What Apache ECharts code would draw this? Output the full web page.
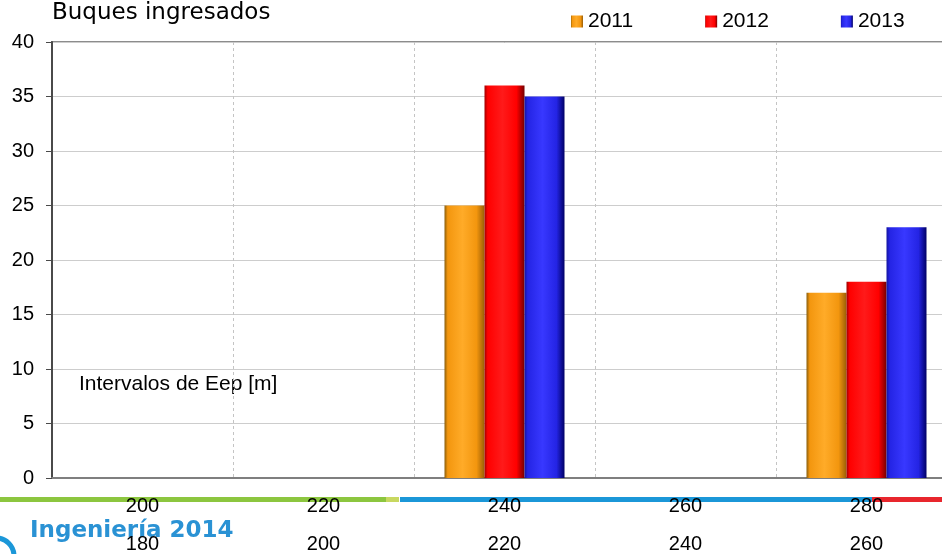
<!DOCTYPE html>
<html>
<head>
<meta charset="utf-8">
<script src="https://cdn.jsdelivr.net/npm/echarts@6/dist/echarts.min.js"></script>
<style>
html,body{margin:0;padding:0;background:#fff;overflow:hidden;width:942px;height:554px;}
#chart{width:962px;height:554px;}
</style>
</head>
<body>
<div id="chart"></div>
<script>
// ---- data ----
var categories = ['200', '220', '240', '260', '280'];
var categoriesLower = ['180', '200', '220', '240', '260'];
var seriesNames = ['2011', '2012', '2013'];
var values2011 = [0, 0, 25, 0, 17];
var values2012 = [0, 0, 36, 0, 18];
var values2013 = [0, 0, 35, 0, 23];
var yTicks = { min: 0, max: 40, interval: 5 };
var titleText = 'Buques ingresados';
var axisNote = 'Intervalos de Eep [m]';
var logoText = 'Ingeniería 2014';

function grad(edgeL, base, light, edgeR) {
  return new echarts.graphic.LinearGradient(0, 0, 1, 0, [
    { offset: 0, color: edgeL },
    { offset: 0.08, color: base },
    { offset: 0.45, color: light },
    { offset: 0.8, color: base },
    { offset: 1, color: edgeR }
  ]);
}
var colors = [
  grad('#8a5e0c', '#f3960e', '#ffab28', '#9a5e06'),
  grad('#a00000', '#ff0000', '#ff1a1a', '#760000'),
  grad('#1414a0', '#2424e4', '#3838ff', '#000066')
];
var seriesValues = [values2011, values2012, values2013];

var chart = echarts.init(document.getElementById('chart'));
var labelFont = { fontFamily: 'Liberation Sans, Arial', fontSize: 20, color: '#000' };

var option = {
  animation: false,
  backgroundColor: '#fff',
  title: {
    text: titleText, left: 52, top: 2, padding: 0,
    textStyle: { fontFamily: 'DejaVu Sans', fontSize: 23, fontWeight: 'normal', color: '#000' }
  },
  legend: {
    data: seriesNames, left: 571, top: 11, padding: 0,
    itemWidth: 12, itemHeight: 12, itemGap: 72, icon: 'rect',
    textStyle: { fontFamily: 'Liberation Sans, Arial', fontSize: 21, color: '#000' }
  },
  grid: {
    left: 52, top: 42, bottom: 75, right: 5,
    show: true, borderColor: '#8c8c8c', borderWidth: 2, backgroundColor: 'transparent'
  },
  xAxis: [{
    type: 'category', data: categories, position: 'bottom',
    axisLine: { show: true, lineStyle: { color: '#7f7f7f', width: 2 } },
    axisTick: { show: false },
    axisLabel: Object.assign({ margin: 18 }, labelFont),
    splitLine: { show: true, lineStyle: { color: '#c4c4c4', type: [3, 3], width: 1 } }
  }, {
    type: 'category', data: categoriesLower, position: 'bottom', offset: 38,
    axisLine: { show: false }, axisTick: { show: false },
    axisLabel: Object.assign({ margin: 18 }, labelFont),
    splitLine: { show: false }
  }],
  yAxis: {
    type: 'value', min: yTicks.min, max: yTicks.max, interval: yTicks.interval,
    axisLine: { show: true, lineStyle: { color: '#4a4a4a', width: 2 } },
    axisTick: { show: true, length: 6, lineStyle: { color: '#4a4a4a', width: 1 } },
    axisLabel: Object.assign({ margin: 18 }, labelFont),
    splitLine: { show: true, lineStyle: { color: '#cdcdcd', width: 1 } }
  },
  series: seriesNames.map(function (n, i) {
    return {
      name: n, type: 'bar', xAxisIndex: 0, data: seriesValues[i],
      barWidth: 40, barGap: '0%',
      itemStyle: { color: colors[i] }
    };
  }),
  graphic: [
    { type: 'text', left: 79, top: 374, style: { text: axisNote, fontFamily: 'Liberation Sans, Arial', fontSize: 21, fill: '#000' } },
    { type: 'rect', z: -1, shape: { x: 0, y: 497, width: 386, height: 5 }, style: { fill: '#8cc63f' } },
    { type: 'rect', z: -1, shape: { x: 386, y: 497, width: 13, height: 5 }, style: { fill: '#c8d860' } },
    { type: 'rect', z: -1, shape: { x: 400, y: 497, width: 472, height: 5 }, style: { fill: '#1b97d8' } },
    { type: 'rect', z: -1, shape: { x: 872, y: 497, width: 90, height: 5 }, style: { fill: '#e8262d' } },
    { type: 'arc', z: -1, shape: { cx: -4, cy: 556, r: 18, startAngle: -Math.PI / 2, endAngle: Math.PI / 2 }, style: { stroke: '#1b97d8', lineWidth: 5, fill: null } },
    { type: 'text', z: -1, left: 30, top: 520, style: { text: logoText, fontFamily: 'DejaVu Sans', fontWeight: 'bold', fontSize: 23, fill: '#2a92d4' } }
  ]
};
chart.setOption(option);
</script>
</body>
</html>
